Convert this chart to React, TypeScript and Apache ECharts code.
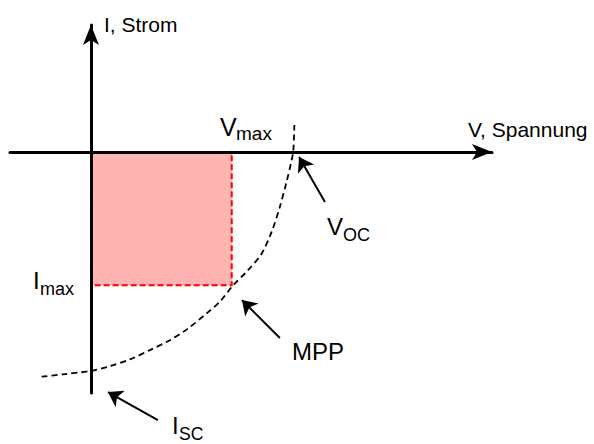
import React, { useEffect, useRef } from "react";
import * as echarts from "echarts";

// I-V curve of a solar cell (normalised units: V_OC = 1, I_SC = 1)
const voltage = [-0.242, -0.136, 0.003, 0.093, 0.191, 0.289, 0.387, 0.477, 0.567, 0.632, 0.694, 0.771, 0.837, 0.886, 0.926, 0.959, 0.984, 0.992, 0.997];
const current = [-1.021, -1.01, -0.994, -0.973, -0.942, -0.9, -0.855, -0.801, -0.733, -0.68, -0.609, -0.536, -0.461, -0.362, -0.249, -0.135, -0.036, 0.006, 0.123];

// maximum power point
const vMax = 0.69;
const iMax = -0.605;

// annotation arrows: [tail, tip]
const arrowVoc = [[1.147, -0.227], [1.02, -0.023]];
const arrowMpp = [[0.926, -0.845], [0.74, -0.673]];
const arrowIsc = [[0.328, -1.218], [0.083, -1.091]];

const FONT = "'Liberation Sans', Arial, sans-serif";

function txt(text: string, x: number, y: number, size: number) {
  return {
    type: "text",
    x,
    y,
    silent: true,
    style: {
      text,
      fill: "#000",
      font: `${size}px ${FONT}`,
      fontSize: size,
      fontFamily: FONT,
      align: "left",
      verticalAlign: "middle",
    },
  };
}

export default function App() {
  const ref = useRef<HTMLDivElement>(null);
  useEffect(() => {
    if (!ref.current) return;
    const chart = echarts.init(ref.current, null, { renderer: "svg" });
    const curve = voltage.map((v, i) => [v, current[i]]);
    const axisLine = {
      show: true,
      onZero: true,
      symbol: ["none", "arrow"],
      symbolSize: [12, 20],
      lineStyle: { color: "#000", width: 3 },
    };
    chart.setOption({
      animation: false,
      backgroundColor: "#fff",
      grid: { left: 10, right: 102, top: 25, bottom: 51 },
      xAxis: {
        type: "value",
        min: -0.397,
        max: 1.966,
        z: 5,
        axisLine,
        axisTick: { show: false },
        axisLabel: { show: false },
        splitLine: { show: false },
      },
      yAxis: {
        type: "value",
        min: -1.095,
        max: 0.577,
        z: 5,
        axisLine,
        axisTick: { show: false },
        axisLabel: { show: false },
        splitLine: { show: false },
      },
      series: [
        {
          type: "line",
          data: curve,
          smooth: 0.3,
          symbol: "none",
          clip: false,
          lineStyle: { color: "#000", width: 1.8, type: [6, 4] },
          markArea: {
            silent: true,
            label: { show: false },
            itemStyle: {
              color: "#ffb3b3",
              borderColor: "#ff0000",
              borderWidth: 2,
              borderType: [6, 3],
            },
            data: [[{ coord: [0, 0] }, { coord: [vMax, iMax] }]],
          },
        },
        {
          type: "lines",
          coordinateSystem: "cartesian2d",
          clip: false,
          symbol: ["none", "arrow"],
          symbolSize: 14,
          lineStyle: { color: "#000", width: 2, curveness: 0, opacity: 1 },
          data: [arrowVoc, arrowMpp, arrowIsc].map((c) => ({ coords: c })),
        },
      ],
      graphic: [
        txt("I, Strom", 104, 24.6, 21),
        txt("V, Spannung", 468, 129.6, 21),
        txt("V", 220, 127, 25),
        txt("max", 236, 133, 19),
        txt("I", 33, 280.6, 24),
        txt("max", 40, 288.7, 18),
        txt("MPP", 292, 351.6, 24),
        txt("V", 327, 226.6, 24),
        txt("OC", 343, 234.7, 18),
        txt("I", 172, 425.6, 24),
        txt("SC", 179, 433.7, 17.5),
      ],
    });
    return () => chart.dispose();
  }, []);
  return (
    <div
      ref={ref}
      style={{ position: "fixed", left: 0, top: 0, width: 594, height: 444, background: "#fff" }}
    />
  );
}
